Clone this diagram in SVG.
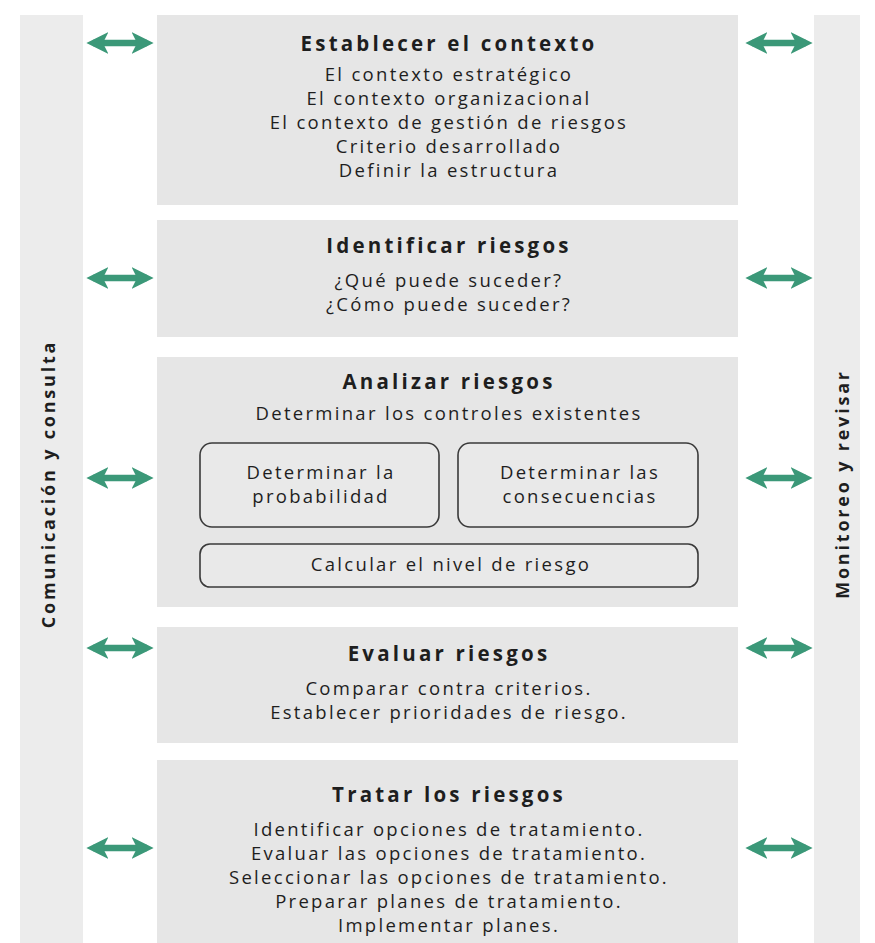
<svg xmlns="http://www.w3.org/2000/svg" width="875" height="943" viewBox="0 0 875 943">
<style>
.bar{fill:#ececec}
.box{fill:#e6e6e6}
.inner{fill:#e9e9e9;stroke:#3a3a3a;stroke-width:1.6}
.t{font-family:"Open Sans","Noto Sans","Liberation Sans",sans-serif;fill:#1e1e1e;text-anchor:middle}
.h{font-size:20.5px;font-weight:700;letter-spacing:3.2px}
.b{font-size:18.5px;letter-spacing:2.3px}
.side{font-size:18px;font-weight:700;letter-spacing:2.8px}
.arr{stroke:#3b9878;stroke-width:6.5;fill:none;marker-start:url(#ah);marker-end:url(#ah)}
</style>
<defs>
<marker id="ah" viewBox="0 0 10 10" refX="7" refY="5" markerWidth="3.4" markerHeight="3.4" orient="auto-start-reverse" markerUnits="strokeWidth">
<path d="M0,0 L10,5 L0,10 L2.5,5 Z" fill="#3b9878"/>
</marker>
</defs>
<rect width="875" height="943" fill="#ffffff"/>
<g id="comunicacion">
<rect class="bar" x="20" y="15" width="63" height="928"/>
<text class="t side" transform="translate(55,484) rotate(-90)">Comunicación y consulta</text>
</g>
<g id="monitoreo">
<rect class="bar" x="814" y="15" width="46" height="928"/>
<text class="t side" transform="translate(849,484) rotate(-90)">Monitoreo y revisar</text>
</g>
<g id="establecer">
<rect class="box" x="157" y="15" width="581" height="190"/>
<text class="t h" x="449" y="51">Establecer el contexto</text>
<text class="t b" x="449" y="81">El contexto estratégico</text>
<text class="t b" x="449" y="105">El contexto organizacional</text>
<text class="t b" x="449" y="129">El contexto de gestión de riesgos</text>
<text class="t b" x="449" y="153">Criterio desarrollado</text>
<text class="t b" x="449" y="177">Definir la estructura</text>
</g>
<g id="identificar">
<rect class="box" x="157" y="220" width="581" height="117"/>
<text class="t h" x="449" y="253">Identificar riesgos</text>
<text class="t b" x="449" y="287">¿Qué puede suceder?</text>
<text class="t b" x="449" y="311">¿Cómo puede suceder?</text>
</g>
<g id="analizar">
<rect class="box" x="157" y="357" width="581" height="250"/>
<text class="t h" x="449" y="389">Analizar riesgos</text>
<text class="t b" x="449" y="420">Determinar los controles existentes</text>
<g id="probabilidad">
<rect class="inner" x="200" y="443" width="239" height="84" rx="12"/>
<text class="t b" x="321" y="479">Determinar la</text>
<text class="t b" x="321" y="503">probabilidad</text>
</g>
<g id="consecuencias">
<rect class="inner" x="458" y="443" width="240" height="84" rx="12"/>
<text class="t b" x="580" y="479">Determinar las</text>
<text class="t b" x="580" y="503">consecuencias</text>
</g>
<g id="nivel">
<rect class="inner" x="200" y="544" width="498" height="43" rx="10"/>
<text class="t b" x="451" y="571">Calcular el nivel de riesgo</text>
</g>
</g>
<g id="evaluar">
<rect class="box" x="157" y="627" width="581" height="116"/>
<text class="t h" x="449" y="661">Evaluar riesgos</text>
<text class="t b" x="449" y="695">Comparar contra criterios.</text>
<text class="t b" x="449" y="719">Establecer prioridades de riesgo.</text>
</g>
<g id="tratar">
<rect class="box" x="157" y="760" width="581" height="183"/>
<text class="t h" x="449" y="802">Tratar los riesgos</text>
<text class="t b" x="449" y="836">Identificar opciones de tratamiento.</text>
<text class="t b" x="449" y="860">Evaluar las opciones de tratamiento.</text>
<text class="t b" x="449" y="884">Seleccionar las opciones de tratamiento.</text>
<text class="t b" x="449" y="908">Preparar planes de tratamiento.</text>
<text class="t b" x="449" y="932">Implementar planes.</text>
</g>
<g id="connectors">
<line class="arr" x1="93" y1="43" x2="147" y2="43"/>
<line class="arr" x1="93" y1="278" x2="147" y2="278"/>
<line class="arr" x1="93" y1="478" x2="147" y2="478"/>
<line class="arr" x1="93" y1="648" x2="147" y2="648"/>
<line class="arr" x1="93" y1="848" x2="147" y2="848"/>
<line class="arr" x1="752" y1="43" x2="806" y2="43"/>
<line class="arr" x1="752" y1="278" x2="806" y2="278"/>
<line class="arr" x1="752" y1="478" x2="806" y2="478"/>
<line class="arr" x1="752" y1="648" x2="806" y2="648"/>
<line class="arr" x1="752" y1="848" x2="806" y2="848"/>
</g>
</svg>
